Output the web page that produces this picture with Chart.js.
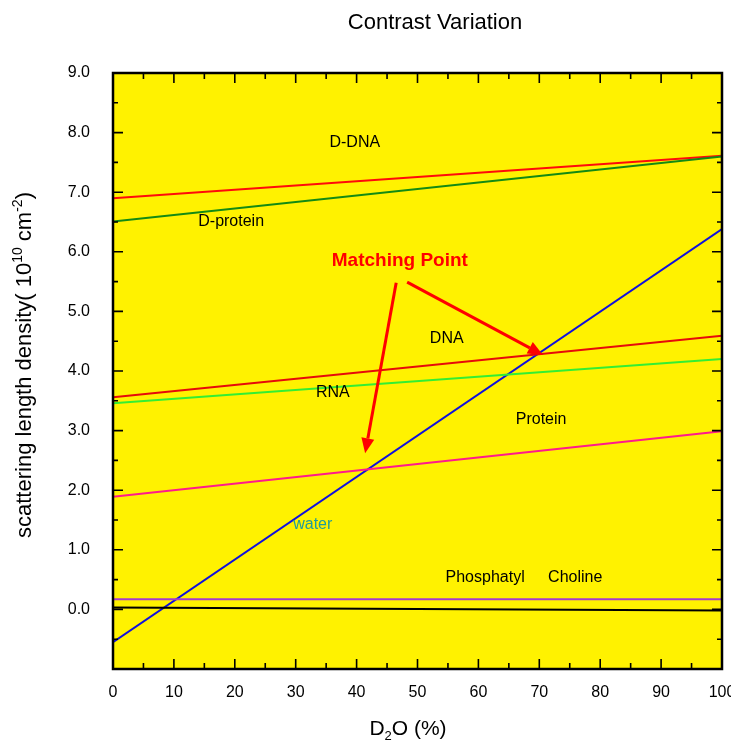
<!DOCTYPE html>
<html>
<head>
<meta charset="utf-8">
<script src="https://cdn.jsdelivr.net/npm/chart.js@4.4.0/dist/chart.umd.min.js"></script>
<style>
  html, body { margin: 0; padding: 0; background: #fff; }
  #wrap { width: 731px; height: 740px; }
</style>
</head>
<body>
<div id="wrap"><canvas id="contrastChart" width="731" height="740"></canvas></div>
<script>
// ========== DATA ==========
const d2oPercent = [0, 100];
const dDNA = [6.90, 7.61];
const dProtein = [6.51, 7.60];
const water = [-0.55, 6.38];
const dna = [3.56, 4.59];
const rna = [3.46, 4.20];
const protein = [1.89, 2.99];
const phosphatylCholine = [0.17, 0.17];
const baseline = [0.03, -0.02];

const xTicks = [0, 10, 20, 30, 40, 50, 60, 70, 80, 90, 100];
const yTicks = [-1, 0, 1, 2, 3, 4, 5, 6, 7, 8, 9];

// text placed inside the plot (data coordinates)
const noteTexts = ['D-DNA', 'D-protein', 'DNA', 'RNA', 'Protein', 'water', 'Phosphatyl', 'Choline'];
const noteX = [39.7, 19.4, 54.8, 36.1, 70.3, 32.8, 61.1, 75.9];
const noteY = [7.83, 6.50, 4.55, 3.63, 3.19, 1.42, 0.54, 0.54];

const matchText = 'Matching Point';
const matchX = 47.1;
const matchY = 5.85;
const arrowFromX = [46.5, 48.3];
const arrowFromY = [5.48, 5.49];
const arrowToX = [41.4, 70.6];
const arrowToY = [2.62, 4.27];

// ========== STYLE ==========
const FONT = '"Liberation Sans", Arial, Helvetica, sans-serif';
const PLOT_BG = '#fff200';
const noteColors = ['#000', '#000', '#000', '#000', '#000', '#1f9b9b', '#000', '#000'];

function pts(ys) {
    return d2oPercent.map((x, i) => ({ x: x, y: ys[i] }));
}

function lineSet(label, ys, color) {
    return {
        label: label,
        data: pts(ys),
        borderColor: color,
        backgroundColor: color,
        borderWidth: 2,
        pointRadius: 0,
        fill: false,
        tension: 0
    };
}

// draws text made of parts, some raised (sup) or lowered (sub)
function drawRich(ctx, parts, x, y, size) {
    const small = Math.round(size * 0.62);
    let total = 0;
    parts.forEach(p => {
        ctx.font = (p.sup || p.sub ? small : size) + 'px ' + FONT;
        p.w = ctx.measureText(p.t).width;
        total += p.w;
    });
    let cx = x - total / 2;
    ctx.textAlign = 'left';
    ctx.textBaseline = 'alphabetic';
    parts.forEach(p => {
        ctx.font = (p.sup || p.sub ? small : size) + 'px ' + FONT;
        let dy = 0;
        if (p.sup) dy = -size * 0.42;
        if (p.sub) dy = size * 0.22;
        ctx.fillText(p.t, cx, y + dy);
        cx += p.w;
    });
}

function drawArrow(ctx, x1, y1, x2, y2) {
    const ang = Math.atan2(y2 - y1, x2 - x1);
    const headLen = 15, headW = 6.5;
    const bx = x2 - headLen * Math.cos(ang);
    const by = y2 - headLen * Math.sin(ang);
    ctx.strokeStyle = '#ff0000';
    ctx.fillStyle = '#ff0000';
    ctx.lineWidth = 3;
    ctx.beginPath();
    ctx.moveTo(x1, y1);
    ctx.lineTo(bx, by);
    ctx.stroke();
    ctx.beginPath();
    ctx.moveTo(x2, y2);
    ctx.lineTo(bx + headW * Math.sin(ang), by - headW * Math.cos(ang));
    ctx.lineTo(bx - headW * Math.sin(ang), by + headW * Math.cos(ang));
    ctx.closePath();
    ctx.fill();
}

const plotBackground = {
    id: 'plotBackground',
    beforeDatasetsDraw(chart) {
        const { ctx, chartArea: a } = chart;
        ctx.save();
        ctx.fillStyle = PLOT_BG;
        ctx.fillRect(a.left, a.top, a.right - a.left, a.bottom - a.top);
        ctx.restore();
    }
};

const frameAndTicks = {
    id: 'frameAndTicks',
    afterDatasetsDraw(chart) {
        const { ctx, chartArea: a, scales } = chart;
        const xs = scales.x, ys = scales.y;
        ctx.save();
        ctx.strokeStyle = '#000';
        ctx.lineWidth = 1.6;
        ctx.beginPath();
        // x ticks, inward on bottom and top, minor every 5
        for (let v = 0; v <= 100; v += 5) {
            const px = xs.getPixelForValue(v);
            const len = v % 10 === 0 ? 10 : 6;
            ctx.moveTo(px, a.bottom); ctx.lineTo(px, a.bottom - len);
            ctx.moveTo(px, a.top); ctx.lineTo(px, a.top + len);
        }
        // y ticks, inward on left and right, minor every 0.5
        for (let v = -1; v <= 9.001; v += 0.5) {
            const py = ys.getPixelForValue(v);
            const len = Math.abs(v - Math.round(v)) < 0.01 ? 10 : 5;
            ctx.moveTo(a.left, py); ctx.lineTo(a.left + len, py);
            ctx.moveTo(a.right, py); ctx.lineTo(a.right - len, py);
        }
        ctx.stroke();
        ctx.lineWidth = 2.5;
        ctx.strokeRect(a.left, a.top, a.right - a.left, a.bottom - a.top);
        ctx.restore();
    }
};

const annotations = {
    id: 'annotations',
    afterDraw(chart) {
        const { ctx, scales } = chart;
        const xs = scales.x, ys = scales.y;
        ctx.save();
        // labels in the plot
        ctx.textAlign = 'center';
        ctx.textBaseline = 'middle';
        ctx.font = '16px ' + FONT;
        noteTexts.forEach((t, i) => {
            ctx.fillStyle = noteColors[i];
            ctx.fillText(t, xs.getPixelForValue(noteX[i]), ys.getPixelForValue(noteY[i]));
        });
        ctx.fillStyle = '#ff0000';
        ctx.font = 'bold 19px ' + FONT;
        ctx.fillText(matchText, xs.getPixelForValue(matchX), ys.getPixelForValue(matchY));
        arrowFromX.forEach((fx, i) => {
            drawArrow(ctx,
                xs.getPixelForValue(fx), ys.getPixelForValue(arrowFromY[i]),
                xs.getPixelForValue(arrowToX[i]), ys.getPixelForValue(arrowToY[i]));
        });

        // chart title
        ctx.fillStyle = '#000';
        ctx.textAlign = 'center';
        ctx.textBaseline = 'middle';
        ctx.font = '22px ' + FONT;
        ctx.fillText('Contrast Variation', 435, 23);

        // x axis title
        drawRich(ctx, [{ t: 'D' }, { t: '2', sub: true }, { t: 'O (%)' }], 408, 735, 21);

        // y axis title (rotated)
        ctx.translate(31, 365);
        ctx.rotate(-Math.PI / 2);
        drawRich(ctx, [
            { t: 'scattering length density( 10' },
            { t: '10', sup: true },
            { t: ' cm' },
            { t: '-2', sup: true },
            { t: ')' }
        ], 0, 0, 22);
        ctx.restore();
    }
};

try {
    const ctx = document.getElementById('contrastChart').getContext('2d');
    new Chart(ctx, {
        type: 'line',
        data: {
            datasets: [
                lineSet('Phosphatyl Choline', phosphatylCholine, '#a63ccb'),
                lineSet('baseline', baseline, '#000000'),
                lineSet('Protein', protein, '#ff1a8c'),
                lineSet('RNA', rna, '#33ee33'),
                lineSet('DNA', dna, '#e60a0a'),
                lineSet('D-protein', dProtein, '#138a13'),
                lineSet('D-DNA', dDNA, '#ff0a0a'),
                lineSet('water', water, '#1010dd')
            ]
        },
        options: {
            responsive: false,
            animation: false,
            layout: { padding: { top: 73, right: 9, left: 0, bottom: 0 } },
            plugins: {
                legend: { display: false },
                tooltip: { enabled: false },
                title: { display: false }
            },
            scales: {
                x: {
                    type: 'linear',
                    min: 0,
                    max: 100,
                    afterBuildTicks: s => { s.ticks = xTicks.map(v => ({ value: v })); },
                    afterFit: s => { s.height = 71; s.paddingLeft = 0; s.paddingRight = 0; },
                    ticks: {
                        autoSkip: false,
                        maxRotation: 0,
                        padding: 14,
                        color: '#000',
                        font: { family: FONT, size: 16 },
                        callback: value => String(value)
                    },
                    grid: { display: false, drawTicks: false },
                    border: { display: false }
                },
                y: {
                    type: 'linear',
                    min: -1,
                    max: 9,
                    afterBuildTicks: s => { s.ticks = yTicks.map(v => ({ value: v })); },
                    afterFit: s => { s.width = 113; s.paddingTop = 0; s.paddingBottom = 0; },
                    ticks: {
                        autoSkip: false,
                        padding: 23,
                        color: '#000',
                        font: { family: FONT, size: 16 },
                        callback: value => value < 0 ? '' : value.toFixed(1)
                    },
                    grid: { display: false, drawTicks: false },
                    border: { display: false }
                }
            }
        },
        plugins: [plotBackground, frameAndTicks, annotations]
    });
} catch (error) {
    console.error('Chart error:', error);
}
</script>
</body>
</html>
